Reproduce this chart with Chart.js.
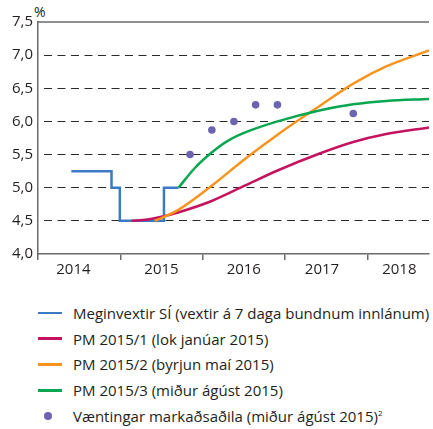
<!DOCTYPE html>
<html>
<head>
<meta charset="utf-8">
<script src="https://cdn.jsdelivr.net/npm/chart.js@4"></script>
<style>
  body { margin: 0; background: #fff; font-family: 'Open Sans', sans-serif; color: #231f20; }
  #wrap { position: relative; width: 433px; height: 429px; }
  #pct { position: absolute; left: 34px; top: 2px; font-size: 14px; }
  #chartBox { position: absolute; left: 0; top: 0; width: 433px; height: 280px; }
  #legend { position: absolute; left: 38px; top: 300px; font-size: 15px; }
  .item { height: 25.8px; display: flex; align-items: center; }
  .sw { width: 24px; height: 2.5px; margin-right: 11px; }
  .dot { width: 8px; height: 8px; border-radius: 50%; margin: 0 21px 0 6px; }
  sup { font-size: 8px; }
</style>
</head>
<body>
<div id="wrap">
  <div id="pct">%</div>
  <div id="chartBox"><canvas id="chart"></canvas></div>
  <div id="legend"></div>
</div>
<script>
// Meginvextir (stepped)
const rateX = [2014.405, 2014.893, 2014.994, 2015.53, 2015.707];
const rateY = [5.25, 5.0, 4.5, 5.0, 5.0];

// PM 2015/1
const pm1X = [2015.137, 2015.33, 2015.53, 2015.71, 2016.11, 2016.51, 2016.91, 2017.43, 2017.83, 2018.23, 2018.75];
const pm1Y = [4.5, 4.52, 4.57, 4.63, 4.80, 5.03, 5.26, 5.52, 5.69, 5.81, 5.91];

// PM 2015/2
const pm2X = [2015.418, 2015.53, 2015.71, 2016.11, 2016.51, 2016.91, 2017.43, 2017.83, 2018.23, 2018.75];
const pm2Y = [4.5, 4.56, 4.67, 5.03, 5.43, 5.80, 6.24, 6.57, 6.83, 7.07];

// PM 2015/3
const pm3X = [2015.707, 2015.9, 2016.11, 2016.31, 2016.51, 2016.91, 2017.43, 2017.83, 2018.23, 2018.75];
const pm3Y = [5.0, 5.29, 5.53, 5.71, 5.83, 6.0, 6.17, 6.26, 6.31, 6.34];

// Væntingar markaðsaðila
const expX = [2015.847, 2016.112, 2016.38, 2016.644, 2016.909, 2017.83];
const expY = [5.5, 5.87, 6.0, 6.25, 6.25, 6.12];

const yearBounds = [2014, 2015, 2016, 2017, 2018];
const yearLabels = ['2014', '2015', '2016', '2017', '2018'];
const yearLabelPos = [2014.43, 2015.5, 2016.5, 2017.45, 2018.39];

const legendNames = [
    'Meginvextir SÍ (vextir á 7 daga bundnum innlánum)',
    'PM 2015/1 (lok janúar 2015)',
    'PM 2015/2 (byrjun maí 2015)',
    'PM 2015/3 (miður ágúst 2015)',
    'Væntingar markaðsaðila (miður ágúst 2015)'
];
const colors = ['#3b7bc6', '#c4145f', '#f7941d', '#0aa650', '#6c64b0'];

const pts = (xs, ys) => xs.map((x, i) => ({x: x, y: ys[i]}));
const textColor = '#231f20';
const axisColor = '#6b6b6b';

const topLine = {
    id: 'topLine',
    afterDraw(chart) {
        const {ctx, chartArea} = chart;
        ctx.save();
        ctx.strokeStyle = axisColor;
        ctx.lineWidth = 1.5;
        ctx.beginPath();
        ctx.moveTo(chartArea.left, chartArea.top);
        ctx.lineTo(chartArea.right, chartArea.top);
        ctx.stroke();
        ctx.restore();
    }
};

const tickVals = yearBounds.concat(yearLabelPos).sort((a, b) => a - b);

new Chart(document.getElementById('chart'), {
    type: 'line',
    data: {
        datasets: [
            {data: pts(rateX, rateY), borderColor: colors[0], stepped: true, borderWidth: 2.5, pointRadius: 0, order: 5},
            {data: pts(pm1X, pm1Y), borderColor: colors[1], cubicInterpolationMode: 'monotone', borderWidth: 2.5, pointRadius: 0, order: 4},
            {data: pts(pm2X, pm2Y), borderColor: colors[2], cubicInterpolationMode: 'monotone', borderWidth: 2.5, pointRadius: 0, order: 3},
            {data: pts(pm3X, pm3Y), borderColor: colors[3], cubicInterpolationMode: 'monotone', borderWidth: 2.5, pointRadius: 0, order: 2},
            {data: pts(expX, expY), showLine: false, pointRadius: 3.8, pointBackgroundColor: colors[4], pointBorderWidth: 0, borderColor: colors[4], order: 1}
        ]
    },
    options: {
        responsive: true,
        maintainAspectRatio: false,
        animation: false,
        layout: {padding: {top: 22, right: 0, left: 0, bottom: 0}},
        plugins: {legend: {display: false}, tooltip: {enabled: false}},
        scales: {
            x: {
                type: 'linear',
                min: 2014,
                max: 2018.75,
                afterBuildTicks: s => { s.ticks = tickVals.map(v => ({value: v})); },
                ticks: {
                    autoSkip: false,
                    maxRotation: 0,
                    padding: 1,
                    color: textColor,
                    font: {family: 'Open Sans', size: 15},
                    callback: v => {
                        const i = yearLabelPos.indexOf(v);
                        return i >= 0 ? yearLabels[i] : '';
                    }
                },
                grid: {
                    drawOnChartArea: false,
                    tickLength: 6,
                    lineWidth: 1.5,
                    color: ctx => (ctx.tick && yearBounds.includes(ctx.tick.value)) ? axisColor : 'rgba(0,0,0,0)'
                },
                border: {color: axisColor, width: 1.5}
            },
            y: {
                min: 4,
                max: 7.5,
                afterFit: s => { s.width = 38; },
                ticks: {
                    stepSize: 0.5,
                    padding: 5,
                    color: textColor,
                    font: {family: 'Open Sans', size: 15},
                    callback: v => v.toFixed(1).replace('.', ',')
                },
                grid: {
                    drawTicks: false,
                    lineWidth: 1,
                    color: ctx => (ctx.tick && (ctx.tick.value === 7.5 || ctx.tick.value === 4)) ? 'rgba(0,0,0,0)' : '#2a2a2a'
                },
                border: {color: axisColor, width: 1.5, dash: [8, 5.5], dashOffset: 8}
            }
        }
    },
    plugins: [topLine]
});

const legend = document.getElementById('legend');
legendNames.forEach((name, i) => {
    const row = document.createElement('div');
    row.className = 'item';
    const sw = document.createElement('span');
    sw.className = i === 4 ? 'dot' : 'sw';
    sw.style.background = colors[i];
    const txt = document.createElement('span');
    txt.innerHTML = name + (i === 4 ? '<sup>2</sup>' : '');
    row.appendChild(sw);
    row.appendChild(txt);
    legend.appendChild(row);
});
</script>
</body>
</html>
